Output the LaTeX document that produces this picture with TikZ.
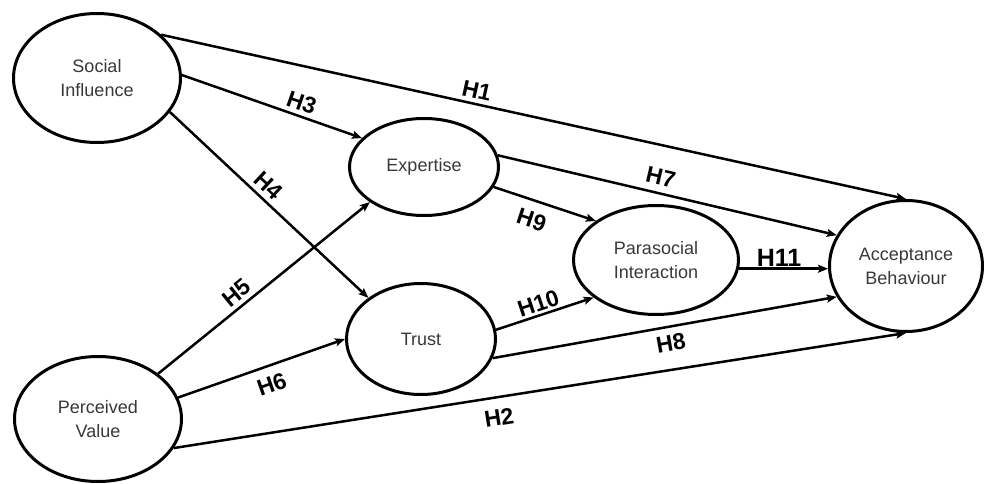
\documentclass[tikz,border=0pt]{standalone}
\usepackage{fontspec}
\setmainfont{Liberation Sans}
\usetikzlibrary{shapes.geometric,arrows.meta}
\begin{document}
\begin{tikzpicture}[x=1pt,y=-1pt,
  ell/.style={ellipse, draw, line width=3pt, inner sep=0pt, align=center,
    font=\fontsize{18}{24}\selectfont, text=black!78},
  arr/.style={line width=2.5pt, -{Stealth[length=10pt,width=8pt,inset=2pt]}},
  lab/.style={font=\fontsize{23}{23}\selectfont\bfseries, sloped, inner sep=0pt}]
\useasboundingbox (0,0) rectangle (986,484);
\node[ell, minimum width=167pt, minimum height=129pt] (SI) at (97,78) {Social\\Influence};
\node[ell, minimum width=167pt, minimum height=125pt] (PV) at (98,419) {Perceived\\Value};
\node[ell, minimum width=149pt, minimum height=97pt] (E) at (424,167) {Expertise};
\node[ell, minimum width=149pt, minimum height=111pt] (T) at (421,339) {Trust};
\node[ell, minimum width=165pt, minimum height=109pt] (P) at (656,260) {Parasocial\\Interaction};
\node[ell, minimum width=153pt, minimum height=131pt] (A) at (906,266) {Acceptance\\Behaviour};

\draw[arr] (SI.34.7) -- node[lab, pos=.42, above=4pt] {H1} (A.90);
\draw[arr] (SI.2) -- node[lab, pos=.64, above=4pt] {H3} (E.155);
\draw[arr] (SI.-25.6) -- node[lab, pos=.45, above=5pt] {H4} (T.142);
\draw[arr] (PV.37.5) -- node[lab, pos=.41, above=4pt] {H5} (E.213.7);
\draw[arr] (PV.15.7) -- node[lab, pos=.525, below=9pt] {H6} (T.180);
\draw[arr] (PV.-21.4) -- node[lab, pos=.44, below=11pt] {H2} (A.270);
\draw[arr] (E.9.7) -- node[lab, pos=.47, above=7pt] {H7} (A.156.7);
\draw[arr] (E.-16.2) -- node[lab, pos=.43, below=10pt] {H9} (P.147);
\draw[arr] (T.7.7) -- node[lab, pos=.47, above=2pt] {H10} (P.211);
\draw[arr] (T.-15) -- node[lab, pos=.51, below=7pt] {H8} (A.204);
\draw[arr] (P.-6) -- node[lab, pos=.45, above=1pt, font=\fontsize{25}{25}\selectfont\bfseries] {H11} (P.-6 -| A.west);
\end{tikzpicture}
\end{document}
